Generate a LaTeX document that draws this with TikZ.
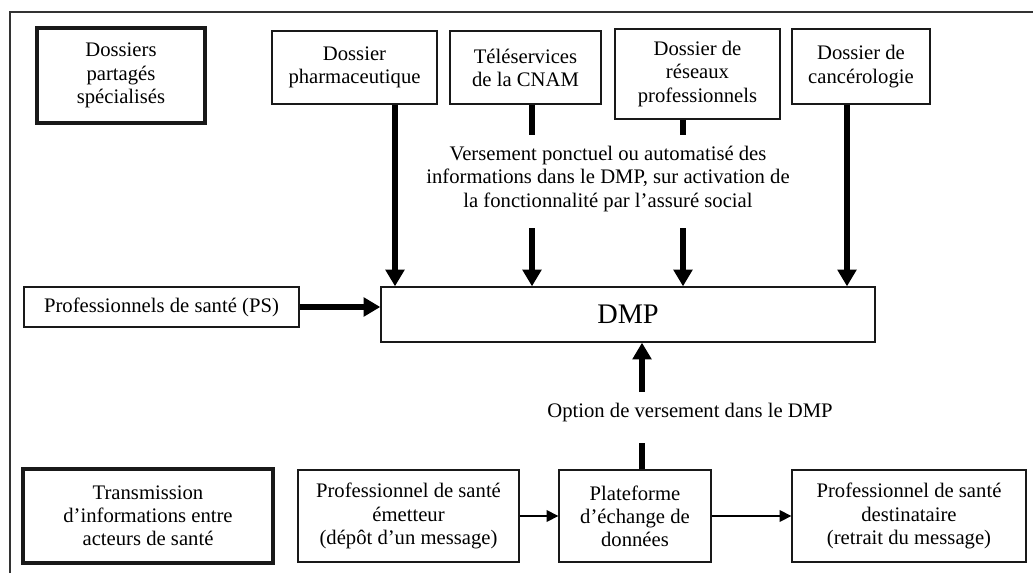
\documentclass[tikz,border=0pt]{standalone}
\usepackage{fontspec}
\setmainfont{Liberation Serif}
\usetikzlibrary{arrows.meta,calc}
\begin{document}
\begin{tikzpicture}[x=0.6pt,y=-0.6pt,
  box/.style={draw=black!90,line width=0.8pt,align=center,inner sep=2pt,font=\fontsize{12.4}{13.9}\selectfont},
  thickbox/.style={box,line width=2pt},
  bigarrow/.style={line width=3.2pt,-{Triangle[length=10pt,width=11pt]}},
  bigline/.style={line width=3.2pt},
  smallarrow/.style={line width=0.8pt,-{Triangle[length=7pt,width=7pt]}},
  lbl/.style={align=center,inner sep=0pt,font=\fontsize{12.4}{13.9}\selectfont}]
\useasboundingbox (0,0) rectangle (1033,573);
% outer frame (cropped)
\draw[black!80,line width=1pt] (10,573) -- (10,12) -- (1033,12);
% top boxes
\node[thickbox,minimum width=168*0.6pt,minimum height=95*0.6pt] (spec) at (121,75.5) {Dossiers\\partagés\\spécialisés};
\node[box,minimum width=165*0.6pt,minimum height=73*0.6pt] (pharma) at (354.5,67.5) {Dossier\\pharmaceutique};
\node[box,minimum width=151*0.6pt,minimum height=73*0.6pt] (tele) at (525.5,67.5) {Téléservices\\de la CNAM};
\node[box,minimum width=165*0.6pt,minimum height=90*0.6pt] (res) at (697.5,74) {Dossier de\\réseaux\\professionnels};
\node[box,minimum width=138*0.6pt,minimum height=75*0.6pt] (canc) at (861,66.5) {Dossier de\\cancérologie};
% DMP and PS
\node[box,minimum width=494*0.6pt,minimum height=55*0.6pt,font=\fontsize{17}{19}\selectfont] (dmp) at (628,314.5) {DMP};
\node[box,minimum width=275*0.6pt,minimum height=40*0.6pt] (ps) at (161.5,307) {Professionnels de santé (PS)};
% labels
\node[lbl] (vers) at (608,179) {Versement ponctuel ou automatisé des\\informations dans le DMP, sur activation de\\la fonctionnalité par l’assuré social};
\node[lbl] (opt) at (690,413) {Option de versement dans le DMP};
% bottom boxes
\node[thickbox,minimum width=250*0.6pt,minimum height=94*0.6pt] (trans) at (148,516) {Transmission\\d’informations entre\\acteurs de santé};
\node[box,minimum width=221*0.6pt,minimum height=92*0.6pt] (emet) at (408.5,516) {Professionnel de santé\\émetteur\\(dépôt d’un message)};
\node[box,minimum width=152*0.6pt,minimum height=92*0.6pt] (plat) at (635,516) {Plateforme\\d’échange de\\données};
\node[box,minimum width=234*0.6pt,minimum height=92*0.6pt] (dest) at (909,516) {Professionnel de santé\\destinataire\\(retrait du message)};
% coordinates for split arrows
\coordinate (t1) at (532,135);
\coordinate (t2) at (532,228);
\coordinate (r1) at (683,135);
\coordinate (r2) at (683,228);
\coordinate (o1) at (642,443);
\coordinate (o2) at (642,392);
% arrows
\draw[bigarrow] (pharma.south -| 395,0) -- (dmp.north -| 395,0);
\draw[bigline] (tele.south -| t1) -- (t1);
\draw[bigarrow] (t2) -- (dmp.north -| t2);
\draw[bigline] (res.south -| r1) -- (r1);
\draw[bigarrow] (r2) -- (dmp.north -| r2);
\draw[bigarrow] (canc.south -| 847,0) -- (dmp.north -| 847,0);
\draw[bigarrow] (ps.east) -- (ps.east -| dmp.west);
\draw[bigline] (plat.north -| o1) -- (o1);
\draw[bigarrow] (o2) -- (dmp.south -| o2);
\draw[smallarrow] (emet.east) -- (plat.west);
\draw[smallarrow] (plat.east) -- (dest.west);
\end{tikzpicture}
\end{document}
